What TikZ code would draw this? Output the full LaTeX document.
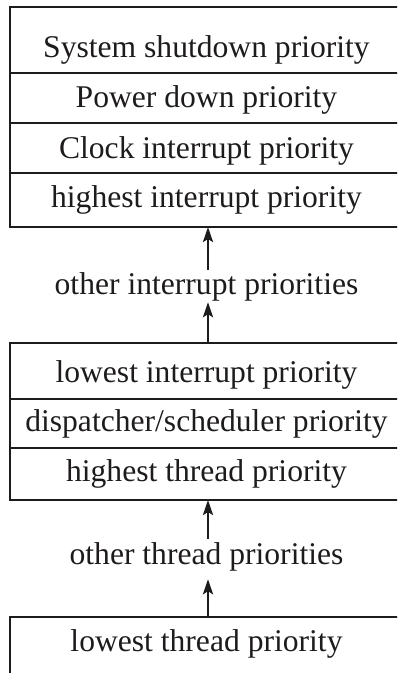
\documentclass[tikz,border=0pt]{standalone}
\usepackage{fontspec}
\setmainfont{Liberation Serif}
\usetikzlibrary{arrows.meta}
\definecolor{ink}{RGB}{30,27,28}
\begin{document}
\begin{tikzpicture}[x=1pt,y=1pt,
  frame/.style={draw=ink, line width=2.6pt, inner sep=0pt, outer sep=0pt, anchor=north west, minimum width=390pt},
  sep/.style={draw=ink, line width=2.6pt},
  txt/.style={text=ink, font=\fontsize{31.6}{38}\selectfont, anchor=base, inner sep=0pt},
  lbl/.style={txt, inner ysep=0pt},
  arr/.style={draw=ink, line width=2.5pt, -{Stealth[length=15pt,width=10pt,inset=3pt]}}]
\useasboundingbox (0,0) rectangle (397,673);
\clip (0,0) rectangle (397,673);
\coordinate (ax) at (208,0);
% box 1
\node[frame, minimum height=220pt] (box1) at (10,666) {};
\draw[sep] (box1.west |- 0,600) -- (box1.east |- 0,600);
\draw[sep] (box1.west |- 0,550) -- (box1.east |- 0,550);
\draw[sep] (box1.west |- 0,500) -- (box1.east |- 0,500);
\node[txt] (t1) at (206.5,615) {System shutdown priority};
\node[txt] (t2) at (206.5,565) {Power down priority};
\node[txt] (t3) at (206.5,514) {Clock interrupt priority};
\node[txt] (t4) at (206.5,465) {highest interrupt priority};
% label 1
\node[lbl, text height=25pt, text depth=7pt] (l1) at (206.5,378) {other interrupt priorities};
% box 2
\node[frame, minimum height=157pt] (box2) at (10,330) {};
\draw[sep] (box2.west |- 0,274) -- (box2.east |- 0,274);
\draw[sep] (box2.west |- 0,225) -- (box2.east |- 0,225);
\node[txt] (t5) at (206.5,290) {lowest interrupt priority};
\node[txt] (t6) at (206.5,241) {dispatcher/scheduler priority};
\node[txt] (t7) at (206.5,191) {highest thread priority};
% label 2
\node[lbl, text height=26pt, text depth=14pt] (l2) at (206.5,108) {other thread priorities};
% box 3
\node[frame, minimum height=80pt] (box3) at (10,56) {};
\node[txt] (t8) at (206.5,21) {lowest thread priority};
% arrows
\draw[arr] (l1.north -| ax) -- (box1.south -| ax);
\draw[arr] (box2.north -| ax) -- (l1.south -| ax);
\draw[arr] (l2.north -| ax) -- (box2.south -| ax);
\draw[arr] (box3.north -| ax) -- (l2.south -| ax);
\end{tikzpicture}
\end{document}
